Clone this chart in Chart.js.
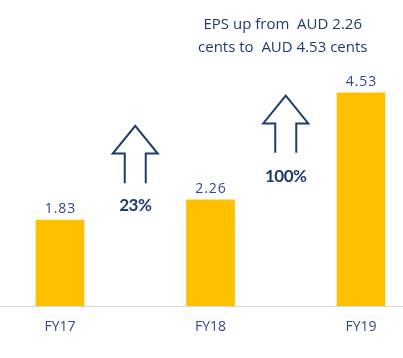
<!DOCTYPE html>
<html>
<head>
<meta charset="utf-8">
<script src="https://cdn.jsdelivr.net/npm/chart.js@4"></script>
<style>
html,body{margin:0;padding:0;background:#fff;}
#wrap{width:403px;height:358px;}
</style>
</head>
<body>
<div id="wrap"><canvas id="c" width="403" height="358"></canvas></div>
<script>
const categories = ['FY17', 'FY18', 'FY19'];
const epsValues = [1.83, 2.26, 4.53];
const growthLabels = ['23%', '100%'];
// arrows: [x position (category index), bottom, head base, apex] in data units, label y
const arrowXs = [0.5, 1.5];
const arrowBottoms = [2.61, 3.26];
const arrowHeadBases = [3.24, 3.88];
const arrowApexes = [3.83, 4.47];
const growthLabelYs = [2.14, 2.75];
const noteLines = ['EPS up from  AUD 2.26', 'cents to  AUD 4.53 cents'];
const noteX = 1.48;
const noteYs = [5.97, 5.49];

const NAVY = '#1F3C6E';
const LABEL = '#2E4A8C';

const overlay = {
  id: 'overlay',
  afterDatasetsDraw(chart) {
    const ctx = chart.ctx;
    const x = chart.scales.x, y = chart.scales.y;
    ctx.save();
    // baseline
    ctx.strokeStyle = '#D9D9D9';
    ctx.lineWidth = 1;
    ctx.beginPath();
    const by = Math.round(y.getPixelForValue(0)) + 0.5;
    ctx.moveTo(0, by); ctx.lineTo(chart.width, by);
    ctx.stroke();
    // value labels
    const meta = chart.getDatasetMeta(0);
    ctx.fillStyle = LABEL;
    ctx.font = '14px "Open Sans"';
    ctx.letterSpacing = '1px';
    ctx.textAlign = 'center';
    ctx.textBaseline = 'bottom';
    meta.data.forEach((bar, i) => {
      ctx.fillText(epsValues[i].toFixed(2), bar.x + 0.5, bar.y - 4);
    });
    ctx.letterSpacing = '0px';
    // arrows
    ctx.strokeStyle = NAVY;
    ctx.lineWidth = 2;
    ctx.lineJoin = 'miter';
    arrowXs.forEach((ax, i) => {
      const cx = x.getPixelForValue(ax);
      const yb = y.getPixelForValue(arrowBottoms[i]);
      const yh = y.getPixelForValue(arrowHeadBases[i]);
      const yt = y.getPixelForValue(arrowApexes[i]);
      const sw = 10.5, hw = 22.5;
      ctx.beginPath();
      ctx.moveTo(cx - sw, yb);
      ctx.lineTo(cx - sw, yh);
      ctx.lineTo(cx - hw, yh);
      ctx.lineTo(cx, yt);
      ctx.lineTo(cx + hw, yh);
      ctx.lineTo(cx + sw, yh);
      ctx.lineTo(cx + sw, yb);
      ctx.stroke();
      ctx.fillStyle = NAVY;
      ctx.font = 'bold 17px Lato';
      ctx.letterSpacing = '-0.5px';
      ctx.textBaseline = 'middle';
      ctx.fillText(growthLabels[i], cx, y.getPixelForValue(growthLabelYs[i]));
      ctx.letterSpacing = '0px';
    });
    // note
    ctx.fillStyle = NAVY;
    ctx.font = '15px "Liberation Sans Narrow", "Open Sans"';
    ctx.textBaseline = 'middle';
    noteLines.forEach((t, i) => {
      ctx.fillText(t, x.getPixelForValue(noteX), y.getPixelForValue(noteYs[i]));
    });
    ctx.restore();
  }
};

new Chart(document.getElementById('c'), {
  type: 'bar',
  data: {
    labels: categories,
    datasets: [{
      data: epsValues,
      backgroundColor: '#FFC000',
      barThickness: 48,
      clip: false
    }]
  },
  options: {
    responsive: false,
    animation: false,
    layout: { padding: { left: 60, right: 42, top: 0, bottom: 11 } },
    plugins: { legend: { display: false }, tooltip: { enabled: false } },
    scales: {
      x: {
        offset: false,
        grid: { display: false, drawTicks: false },
        border: { display: false },
        ticks: { color: LABEL, font: { family: 'Open Sans', size: 14 }, padding: 12, maxRotation: 0 }
      },
      y: {
        display: false,
        min: 0,
        max: 6.5
      }
    }
  },
  plugins: [overlay]
});
</script>
</body>
</html>
